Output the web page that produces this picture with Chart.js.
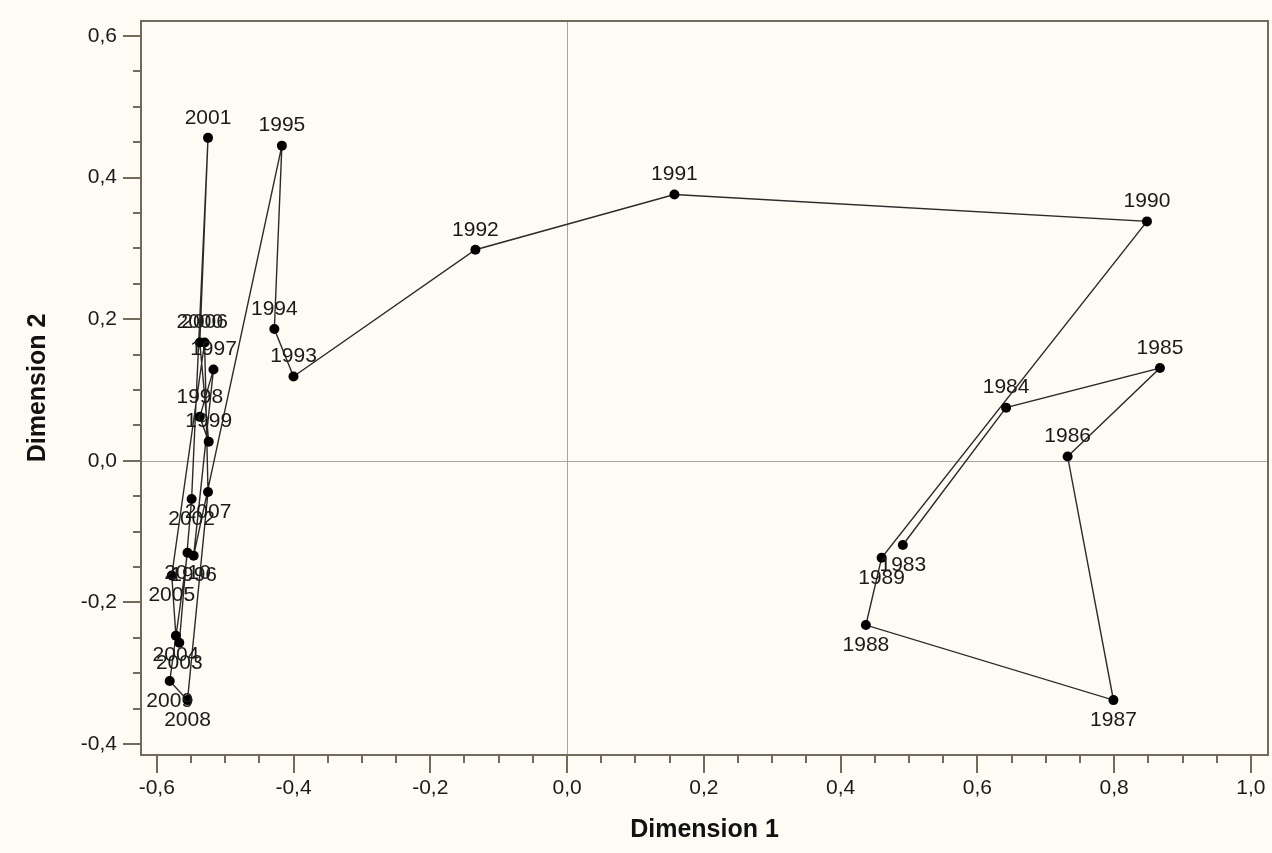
<!DOCTYPE html>
<html>
<head>
<meta charset="utf-8">
<script src="https://cdn.jsdelivr.net/npm/chart.js@4.4.1/dist/chart.umd.min.js"></script>
<style>
    html, body { margin: 0; padding: 0; background: #fdfbf4; }
    #wrap { width: 1272px; height: 853px; }
</style>
</head>
<body>
<div id="wrap"><canvas id="dataChart" width="1272" height="853"></canvas></div>
<script>
// years and coordinates
const years = [1983, 1984, 1985, 1986, 1987, 1988, 1989, 1990, 1991, 1992, 1993, 1994, 1995, 1996,
    1997, 1998, 1999, 2000, 2001, 2002, 2003, 2004, 2005, 2006, 2007, 2008, 2009, 2010];
const dim1 = [0.491, 0.642, 0.867, 0.732, 0.799, 0.437, 0.460, 0.848, 0.157, -0.134, -0.400, -0.428, -0.417, -0.546,
    -0.517, -0.537, -0.524, -0.537, -0.525, -0.549, -0.567, -0.572, -0.578, -0.530, -0.525, -0.555, -0.581, -0.555];
const dim2 = [-0.119, 0.075, 0.131, 0.006, -0.338, -0.232, -0.137, 0.338, 0.376, 0.298, 0.119, 0.186, 0.445, -0.134,
    0.129, 0.062, 0.027, 0.167, 0.456, -0.054, -0.257, -0.247, -0.162, 0.167, -0.044, -0.338, -0.311, -0.130];
const xTicks = [-0.6, -0.4, -0.2, 0.0, 0.2, 0.4, 0.6, 0.8, 1.0];
const yTicks = [-0.4, -0.2, 0.0, 0.2, 0.4, 0.6];

// labels drawn under the point instead of above it
const labelBelow = [1983, 1987, 1988, 1989, 1996, 2002, 2003, 2004, 2005, 2007, 2008, 2009, 2010];

const axisColor = '#716b5c';
const fmt = v => v.toFixed(1).replace('.', ',');

// frame, zero lines and tick marks (long on labelled ticks, short between)
const framePlugin = {
    id: 'frame',
    beforeDatasetsDraw(chart) {
        const { ctx, chartArea: a, scales: { x, y } } = chart;
        ctx.save();
        ctx.strokeStyle = '#a5a5a5';
        ctx.lineWidth = 1;
        ctx.beginPath();
        const x0 = Math.round(x.getPixelForValue(0)) + 0.5;
        const y0 = Math.round(y.getPixelForValue(0)) + 0.5;
        ctx.moveTo(x0, a.top); ctx.lineTo(x0, a.bottom);
        ctx.moveTo(a.left, y0); ctx.lineTo(a.right, y0);
        ctx.stroke();
        ctx.restore();
    },
    afterDraw(chart) {
        const { ctx, chartArea: a, scales: { x, y } } = chart;
        ctx.save();
        ctx.strokeStyle = axisColor;
        ctx.lineWidth = 2;
        ctx.strokeRect(a.left, a.top, a.right - a.left, a.bottom - a.top);
        ctx.beginPath();
        for (let i = -12; i <= 20; i++) {
            const px = Math.round(x.getPixelForValue(i * 0.05));
            const len = i % 4 === 0 ? 18 : 8;
            ctx.moveTo(px, a.bottom); ctx.lineTo(px, a.bottom + len);
        }
        for (let i = -8; i <= 12; i++) {
            const py = Math.round(y.getPixelForValue(i * 0.05));
            const len = i % 4 === 0 ? 18 : 8;
            ctx.moveTo(a.left, py); ctx.lineTo(a.left - len, py);
        }
        ctx.stroke();
        ctx.restore();
    }
};

// year labels next to each point
const yearLabels = {
    id: 'yearLabels',
    afterDatasetsDraw(chart) {
        const { ctx } = chart;
        const meta = chart.getDatasetMeta(0);
        ctx.save();
        ctx.font = '21px "Liberation Sans", Arial, sans-serif';
        ctx.fillStyle = '#1a1a1a';
        ctx.textAlign = 'center';
        ctx.textBaseline = 'middle';
        meta.data.forEach((pt, i) => {
            const below = labelBelow.includes(years[i]);
            ctx.fillText(String(years[i]), pt.x, pt.y + (below ? 20 : -20));
        });
        ctx.restore();
    }
};

// fixed axis sizes, no extra room for the end labels
function fitX(s) {
    s.height = 98;
    s.paddingLeft = 0;
    s.paddingRight = 0;
}
function fitY(s) {
    s.width = 141;
    s.paddingTop = 0;
    s.paddingBottom = 0;
}

document.addEventListener('DOMContentLoaded', () => {
    const ctx = document.getElementById('dataChart').getContext('2d');
    const points = years.map((yr, i) => ({ x: dim1[i], y: dim2[i] }));

    new Chart(ctx, {
        type: 'scatter',
        data: {
            datasets: [{
                data: points,
                showLine: true,
                borderColor: '#2a2a2a',
                borderWidth: 1.4,
                pointRadius: 5,
                pointHoverRadius: 5,
                pointBackgroundColor: '#000',
                pointBorderColor: '#000',
                pointBorderWidth: 0
            }]
        },
        options: {
            responsive: false,
            animation: false,
            layout: { autoPadding: false, padding: { top: 21, right: 4, left: 0, bottom: 0 } },
            plugins: {
                legend: { display: false },
                tooltip: { enabled: false }
            },
            scales: {
                x: {
                    type: 'linear',
                    min: -0.623,
                    max: 1.025,
                    afterBuildTicks: s => { s.ticks = xTicks.map(v => ({ value: v })); },
                    afterFit: fitX,
                    grid: { display: false },
                    border: { display: false },
                    ticks: {
                        padding: 13,
                        color: '#1a1a1a',
                        font: { family: '"Liberation Sans", Arial, sans-serif', size: 21 },
                        callback: v => fmt(v),
                        maxRotation: 0
                    },
                    title: {
                        display: true,
                        text: 'Dimension 1',
                        color: '#111',
                        font: { family: '"Liberation Sans", Arial, sans-serif', size: 25, weight: 'bold' },
                        padding: { top: 0, bottom: 8 }
                    }
                },
                y: {
                    type: 'linear',
                    min: -0.4155,
                    max: 0.621,
                    afterBuildTicks: s => { s.ticks = yTicks.map(v => ({ value: v })); },
                    afterFit: fitY,
                    grid: { display: false },
                    border: { display: false },
                    ticks: {
                        padding: 16,
                        color: '#1a1a1a',
                        font: { family: '"Liberation Sans", Arial, sans-serif', size: 21 },
                        callback: v => fmt(v)
                    },
                    title: {
                        display: true,
                        text: 'Dimension 2',
                        color: '#111',
                        font: { family: '"Liberation Sans", Arial, sans-serif', size: 25, weight: 'bold' },
                        padding: { top: 23, bottom: 0 }
                    }
                }
            }
        },
        plugins: [framePlugin, yearLabels]
    });
});
</script>
</body>
</html>
